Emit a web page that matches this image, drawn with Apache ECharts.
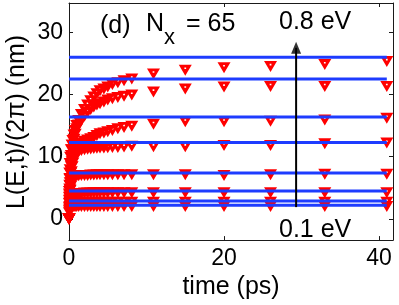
<!DOCTYPE html>
<html>
<head>
<meta charset="utf-8">
<script src="https://cdn.jsdelivr.net/npm/echarts@6/dist/echarts.min.js"></script>
<style>html,body{margin:0;padding:0;background:#fff}#c{width:399px;height:305px}</style>
</head>
<body>
<div id="c"></div>
<script>
// ---- data ----
const times = [0, 0.05, 0.1, 0.15, 0.2, 0.3, 0.4, 0.5, 0.65, 0.8, 1.0, 1.25, 1.6, 2.0, 2.4, 2.8, 3.2, 3.6, 4.0, 4.5, 5.0, 5.6, 6.3, 7.1, 8.1, 10.9, 15, 20, 26, 33, 41];

const L_08 = [0, 4.4, 7.4, 8.9, 9.9, 11.1, 11.9, 12.6, 13.5, 14.2, 15.0, 15.8, 16.8, 17.6, 18.3, 19.0, 19.6, 20.1, 20.6, 20.9, 21.2, 21.6, 21.9, 22.2, 22.5, 23.3, 23.9, 24.3, 24.5, 24.8, 25.3];
const L_07 = [0, 4.0, 6.4, 7.9, 8.9, 10.2, 11.1, 11.8, 12.8, 13.6, 14.5, 15.1, 15.8, 16.5, 17.1, 17.6, 18.0, 18.3, 18.5, 18.8, 19.1, 19.3, 19.5, 19.7, 19.9, 20.4, 20.9, 21.2, 21.3, 21.3, 21.3];
const L_06 = [0, 3.5, 5.4, 6.5, 7.3, 8.4, 9.2, 9.8, 10.4, 10.9, 11.4, 11.8, 12.2, 12.5, 12.7, 12.9, 13.1, 13.4, 13.7, 13.8, 14.0, 14.2, 14.5, 14.7, 14.9, 15.2, 15.6, 15.6, 15.7, 15.9, 16.2];
const L_05 = [0, 3.0, 4.8, 5.8, 6.5, 7.6, 8.4, 9.0, 9.6, 10.1, 10.5, 10.8, 11.0, 11.1, 11.2, 11.25, 11.3, 11.35, 11.4, 11.4, 11.45, 11.5, 11.5, 11.55, 11.7, 11.6, 11.6, 11.8, 11.8, 12.1, 12.2];
const L_04 = [0, 2.5, 3.8, 4.6, 5.2, 5.8, 6.2, 6.5, 6.7, 6.8, 6.9, 6.95, 7.0, 7.0, 7.0, 7.05, 7.05, 7.1, 7.1, 7.1, 7.1, 7.1, 7.1, 7.1, 7.1, 7.1, 7.1, 7.0, 7.1, 7.2, 7.2];
const L_03 = [0, 1.8, 2.7, 3.2, 3.5, 3.8, 3.95, 4.0, 4.05, 4.1, 4.1, 4.1, 4.1, 4.15, 4.15, 4.15, 4.2, 4.2, 4.2, 4.2, 4.2, 4.2, 4.2, 4.2, 4.2, 4.2, 4.2, 4.2, 4.2, 4.2, 4.2];
const L_02 = [0, 1.3, 2.0, 2.3, 2.5, 2.6, 2.65, 2.7, 2.7, 2.7, 2.7, 2.7, 2.7, 2.7, 2.7, 2.7, 2.7, 2.7, 2.7, 2.7, 2.7, 2.7, 2.7, 2.7, 2.7, 2.7, 2.7, 2.7, 2.7, 2.7, 2.7];
const L_01 = [0, 1.0, 1.5, 1.7, 1.8, 1.9, 1.95, 2.0, 2.0, 2.0, 2.0, 2.0, 2.0, 2.0, 2.0, 2.0, 2.0, 2.0, 2.0, 2.0, 2.0, 2.0, 2.0, 2.0, 2.0, 2.0, 2.0, 2.0, 2.0, 2.0, 2.0];
const curves = [L_08, L_07, L_06, L_05, L_04, L_03, L_02, L_01];

// saturation levels (blue lines)
const levels = [26.0, 22.5, 16.4, 12.3, 7.4, 4.5, 2.9, 2.2];
const levelSpan = [0, 41];

const xTicks = [0, 20, 40];
const yTicks = [0, 10, 20, 30];

// arrow from 0.1 eV to 0.8 eV
const arrowT = 29.3;
const arrowFrom = 1.9, arrowTo = 27.5;

const titleParts = ['(d)', 'N', 'x', '= 65'];
const topLabel = '0.8 eV', bottomLabel = '0.1 eV';
const xName = 'time (ps)', yName = 'L(E,t)/(2\u03c0) (nm)';

// ---- chart ----
const FONT = '"Liberation Sans", Arial, Helvetica, sans-serif';
const AX = '#1a1a1a';
const tri = 'path://M0,0L12,0L6,10ZM5.2,2.6L5.2,4.0L6.8,4.0L6.8,2.6Z';

const series = [];
curves.forEach(c => {
  series.push({
    type: 'scatter', xAxisIndex: 0, yAxisIndex: 0,
    data: times.map((t, i) => [t, c[i]]),
    symbol: tri, symbolSize: [13, 11],
    itemStyle: { color: '#ff0000', opacity: 1 },
    z: 2, silent: true, clip: false
  });
});
levels.forEach(v => {
  series.push({
    type: 'line', xAxisIndex: 0, yAxisIndex: 0,
    data: levelSpan.map(t => [t, v]),
    showSymbol: false, symbol: 'none',
    lineStyle: { color: '#1e3cff', width: 3 },
    z: 3, silent: true
  });
});
series.push({
  type: 'line', data: [[arrowT, arrowFrom], [arrowT, arrowTo]],
  symbol: 'none', lineStyle: { color: '#000', width: 2 }, z: 4, silent: true
});
series.push({
  type: 'scatter', data: [[arrowT, arrowTo]],
  symbol: 'triangle', symbolSize: [10, 12],
  itemStyle: { color: '#000' }, z: 5, silent: true
});

const option = {
  animation: false,
  backgroundColor: '#fff',
  grid: { left: 69, right: 6, top: 3, bottom: 57, containLabel: false },
  xAxis: [
    { type: 'value', min: 0, max: 41.8, interval: 20, position: 'bottom',
      name: xName, nameLocation: 'middle', nameGap: 27,
      nameTextStyle: { fontFamily: FONT, fontSize: 25, color: '#000' },
      axisLine: { show: true, onZero: false, lineStyle: { color: AX, width: 1 } },
      axisTick: { show: true, inside: true, length: 4, lineStyle: { color: AX } },
      axisLabel: { fontFamily: FONT, fontSize: 23, color: '#000', margin: 7,
        customValues: xTicks },
      splitLine: { show: false } },
    { type: 'value', min: 0, max: 41.8, interval: 20, position: 'top',
      axisLine: { show: true, onZero: false, lineStyle: { color: AX, width: 1 } },
      axisTick: { show: true, inside: true, length: 4, lineStyle: { color: AX } },
      axisLabel: { show: false }, splitLine: { show: false } }
  ],
  yAxis: [
    { type: 'value', min: -3.4, max: 34.7, position: 'left',
      axisLine: { show: true, onZero: false, lineStyle: { color: AX, width: 1 } },
      axisTick: { show: true, inside: true, length: 4, lineStyle: { color: AX }, customValues: yTicks },
      axisLabel: { fontFamily: FONT, fontSize: 23, color: '#000', margin: 6, customValues: yTicks },
      splitLine: { show: false } },
    { type: 'value', min: -3.4, max: 34.7, position: 'right',
      axisLine: { show: true, onZero: false, lineStyle: { color: AX, width: 1 } },
      axisTick: { show: true, inside: true, length: 4, lineStyle: { color: AX }, customValues: yTicks },
      axisLabel: { show: false, customValues: yTicks }, splitLine: { show: false } }
  ],
  series: series,
  graphic: [
    { type: 'text', x: 100, y: 26, style: { text: titleParts[0], font: '25px ' + FONT, fill: '#000', verticalAlign: 'middle', align: 'left' } },
    { type: 'text', x: 146, y: 24, style: { text: titleParts[1], font: '25px ' + FONT, fill: '#000', verticalAlign: 'middle', align: 'left' } },
    { type: 'text', x: 164, y: 38, style: { text: titleParts[2], font: '22px ' + FONT, fill: '#000', verticalAlign: 'middle', align: 'left' } },
    { type: 'text', x: 186, y: 24, style: { text: titleParts[3], font: '25px ' + FONT, fill: '#000', verticalAlign: 'middle', align: 'left' } },
    { type: 'text', x: 279, y: 22, style: { text: topLabel, font: '25px ' + FONT, fill: '#000', verticalAlign: 'middle', align: 'left' } },
    { type: 'text', x: 279, y: 230, style: { text: bottomLabel, font: '25px ' + FONT, fill: '#000', verticalAlign: 'middle', align: 'left' } },
    { type: 'text', x: 17, y: 122, rotation: Math.PI / 2, style: { text: yName, font: '25px ' + FONT, fill: '#000', verticalAlign: 'middle', align: 'center' } }
  ]
};
const chart = echarts.init(document.getElementById('c'), null, { renderer: 'canvas' });
chart.setOption(option);
</script>
</body>
</html>
